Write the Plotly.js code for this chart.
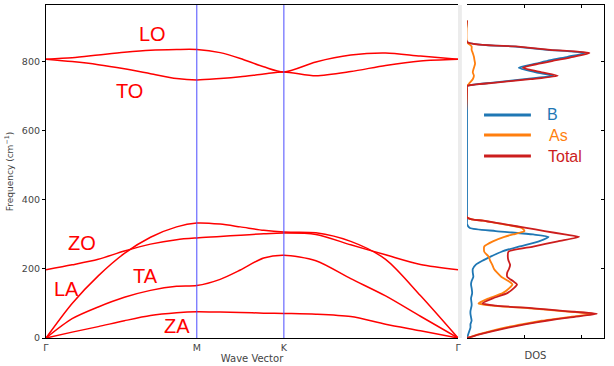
<!DOCTYPE html>
<html>
<head>
<meta charset="utf-8">
<script src="https://cdn.plot.ly/plotly-3.0.1.min.js"></script>
<style>
  html, body { margin: 0; padding: 0; background: #fff; }
  #div_plot { width: 614px; height: 366px; }
</style>
</head>
<body>
<div id="div_plot"></div>
<script>
// high symmetry path  G - M - K - G
var path_ticks = [0, 0.866, 1.366, 2.366];
var path_labels = ['Γ', 'M', 'K', 'Γ'];

// sample points along the path
var k_pts = [0, 0.15, 0.3, 0.45, 0.6, 0.75, 0.866,
             1.0, 1.116, 1.25, 1.366,
             1.55, 1.75, 1.95, 2.15, 2.366];

// phonon branches (cm-1)
var band_ZA = [0, 17, 33, 50, 65, 73, 76, 75, 74, 72, 71, 69, 62, 40, 21, 0];
var band_TA = [0, 56, 90, 118, 138, 150, 152, 170, 197, 232, 240, 224, 172, 122, 63, 0];
var band_LA = [0, 100, 180, 245, 292, 322, 333, 330, 322, 312, 307, 305, 280, 228, 123, 0];
var band_ZO = [198, 212, 228, 252, 272, 285, 290, 294, 298, 302, 304, 300, 270, 241, 213, 198];
var band_TO = [808, 801, 792, 780, 766, 752, 748, 752, 757, 765, 771, 760, 772, 790, 803, 808];
var band_LO = [808, 812, 820, 828, 834, 836, 836, 827, 810, 786, 771, 800, 820, 826, 817, 808];

var band_names = ['LO', 'TO', 'ZO', 'LA', 'TA', 'ZA'];

// density of states
var dos_freq = [0, 10, 20, 30, 40, 50, 60, 70, 78, 86, 94, 100, 115, 130, 145, 155, 165, 177, 190, 200,
                212, 225, 235, 250, 265, 280, 293, 300, 310, 319, 330, 340, 350,
                720, 730, 740, 750, 760, 770, 783, 795, 805, 815, 826, 835, 845, 858, 920];
var dos_B = [0, 0.02, 0.04, 0.06, 0.06, 0.08, 0.07, 0.06, 0.06, 0.07, 0.08, 0.08, 0.07, 0.09, 0.08, 0.07, 0.08, 0.11, 0.1, 0.1,
             0.15, 0.28, 0.4, 0.6, 0.9, 1.25, 1.42, 1.15, 0.5, 0.05, 0, 0, 0,
             0, 0, 0.45, 1.0, 1.5, 1.2, 0.9, 1.2, 1.45, 1.75, 2.05, 1.4, 0.8, 0, 0];
var dos_As = [0, 0.18, 0.41, 0.66, 0.97, 1.3, 1.73, 2.2, 1.65, 1.09, 0.43, 0.2, 0.38, 0.62, 0.74, 0.79, 0.72, 0.6, 0.52, 0.47,
              0.44, 0.4, 0.38, 0.3, 0.3, 0.45, 0.65, 0.8, 1.0, 0.95, 0.62, 0.28, 0,
              0, 0, 0.05, 0.1, 0.12, 0.1, 0.12, 0.14, 0.13, 0.12, 0.1, 0.08, 0.08, 0, 0];
var dos_total = [0, 0.2, 0.45, 0.72, 1.03, 1.38, 1.8, 2.26, 1.71, 1.16, 0.5, 0.27, 0.45, 0.7, 0.82, 0.87, 0.8, 0.7, 0.7, 0.73,
                 0.75, 0.72, 0.71, 0.72, 1.15, 1.58, 1.95, 1.7, 1.35, 1.03, 0.64, 0.28, 0,
                 0, 0, 0.5, 1.1, 1.58, 1.3, 0.97, 1.25, 1.55, 1.85, 2.13, 1.45, 0.85, 0, 0];

var dos_names = ['B', 'As', 'Total'];
var dos_colors = ['#1f77b4', '#ff7f0e', '#cc1d1d'];

var font_axis = {family: 'DejaVu Sans', size: 9.5, color: '#444'};

function plot_graph(){
   var data = [];
   var bands = [band_LO, band_TO, band_ZO, band_LA, band_TA, band_ZA];

   bands.forEach((b, i) => {
      data.push({
         x: k_pts,
         y: b,
         name: band_names[i],
         mode: 'lines',
         type: 'scatter',
         line: {color: '#ff0000', width: 1.5, shape: 'spline', smoothing: 0.8},
         xaxis: 'x', yaxis: 'y',
         showlegend: false
      });
   });

   var dos_sets = [dos_B, dos_As, dos_total];
   dos_sets.forEach((d, i) => {
      data.push({
         x: d,
         y: dos_freq,
         name: dos_names[i],
         mode: 'lines',
         type: 'scatter',
         line: {color: dos_colors[i], width: 1.8, shape: 'spline', smoothing: 0.6},
         xaxis: 'x2', yaxis: 'y2',
         showlegend: false
      });
   });

   // high symmetry lines
   var shapes = [];
   [path_ticks[1], path_ticks[2]].forEach(k => {
      shapes.push({type: 'line', xref: 'x', yref: 'paper', x0: k, x1: k, y0: 0, y1: 1,
                   line: {color: '#4b4bff', width: 1}});
   });
   // gap strip between panels
   shapes.push({type: 'rect', xref: 'paper', yref: 'paper', x0: 0.7384, x1: 0.7453, y0: 0, y1: 1,
                fillcolor: '#ececec', line: {width: 0}});

   // hand drawn legend
   var legend_y = [0.6697, 0.6096, 0.5465];
   var legend_tx = [0.9086, 0.9176, 0.930];
   var annotations = [];
   dos_names.forEach((n, i) => {
      shapes.push({type: 'line', xref: 'paper', yref: 'paper', x0: 0.785, x1: 0.869,
                   y0: legend_y[i], y1: legend_y[i], line: {color: dos_colors[i], width: 3}});
      annotations.push({xref: 'paper', yref: 'paper', x: legend_tx[i], y: legend_y[i],
                        text: n, showarrow: false, xanchor: 'center', yanchor: 'middle',
                        font: {family: 'Liberation Sans', size: 16, color: dos_colors[i]}});
   });

   // branch labels
   var label_pos = {LO: [0.609, 882], TO: [0.482, 716], ZO: [0.207, 275],
                    LA: [0.115, 142], TA: [0.569, 180], ZA: [0.753, 35]};
   band_names.forEach(n => {
      annotations.push({xref: 'x', yref: 'y', x: label_pos[n][0], y: label_pos[n][1],
                        text: n, showarrow: false, xanchor: 'center', yanchor: 'middle',
                        font: {family: 'Liberation Sans', size: 20, color: '#ff0000'}});
   });

   var layout = {
      width: 614,
      height: 366,
      margin: {l: 46, r: 10, t: 5, b: 28},
      paper_bgcolor: '#fff',
      plot_bgcolor: '#fff',
      showlegend: false,
      xaxis: {
         domain: [0, 0.7384],
         range: [0, path_ticks[3]],
         tickvals: path_ticks,
         ticktext: path_labels,
         ticks: '',
         showgrid: false,
         zeroline: false,
         showline: true, linecolor: '#000', linewidth: 1.2, mirror: true,
         tickfont: font_axis,
         title: {text: 'Wave Vector', font: {family: 'DejaVu Sans', size: 10, color: '#444'}, standoff: 2}
      },
      yaxis: {
         domain: [0, 1],
         range: [0, 965],
         tickvals: [0, 200, 400, 600, 800],
         ticks: 'outside', ticklen: 3, tickcolor: '#000',
         showgrid: false,
         zeroline: false,
         showline: true, linecolor: '#000', linewidth: 1.2,
         tickfont: font_axis,
         title: {text: 'Frequency (cm<sup>−1</sup>)', font: {family: 'DejaVu Sans', size: 9, color: '#444'}, standoff: 6}
      },
      xaxis2: {
         domain: [0.7545, 1],
         range: [0, 2.383],
         tickvals: [1, 2],
         showticklabels: false,
         ticks: 'inside', ticklen: 3, tickcolor: '#000',
         showgrid: false,
         zeroline: false,
         showline: true, linecolor: '#000', linewidth: 1.2, mirror: 'ticks',
         anchor: 'y2',
         title: {text: 'DOS', font: {family: 'DejaVu Sans', size: 10, color: '#444'}, standoff: 13}
      },
      yaxis2: {
         domain: [0, 1],
         range: [0, 965],
         anchor: 'x2',
         side: 'right',
         tickvals: [0, 200, 400, 600, 800],
         showticklabels: false,
         ticks: 'inside', ticklen: 3, tickcolor: '#000',
         showgrid: false,
         zeroline: false,
         showline: true, linecolor: '#000', linewidth: 1.2
      },
      shapes: shapes,
      annotations: annotations
   };

   var config = {
      responsive: false,
      displayModeBar: false
   };

   Plotly.newPlot('div_plot', data, layout, config);
}

plot_graph();
</script>
</body>
</html>
